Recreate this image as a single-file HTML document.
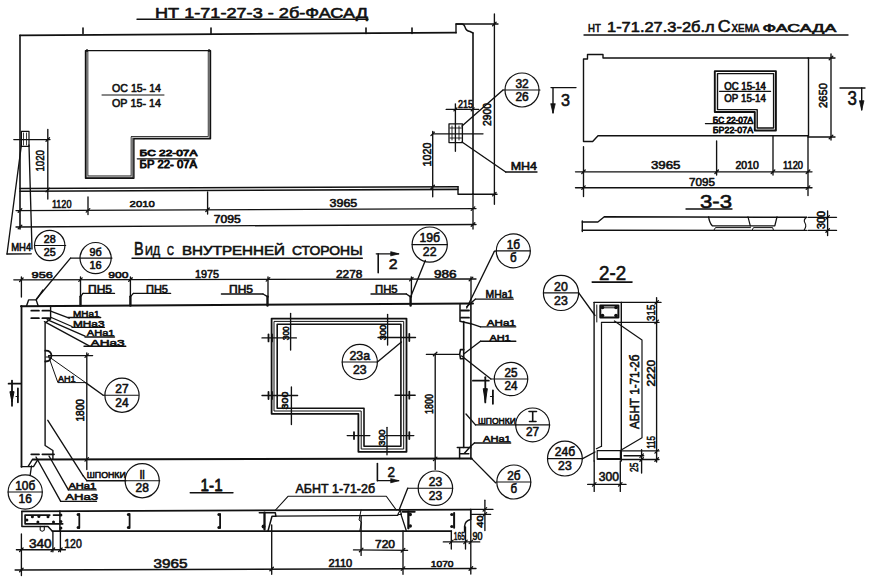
<!DOCTYPE html>
<html><head><meta charset="utf-8"><style>
html,body{margin:0;padding:0;background:#fff;}
svg{display:block;}
text{font-family:"Liberation Sans",sans-serif;fill:#111;stroke:#111;stroke-width:0.6px;}
</style></head><body>
<svg width="874" height="581" viewBox="0 0 874 581" fill="none" stroke="#111" stroke-linecap="round" stroke-linejoin="round">
<rect x="0" y="0" width="874" height="581" fill="#fff" stroke="none"/>
<text x="155.0" y="17.8" font-size="14.93" textLength="213.0" lengthAdjust="spacingAndGlyphs" font-weight="normal">НТ 1-71-27-3 - 2б-ФАСАД</text>
<polyline points="137.0,19.2 368.0,19.2" stroke-width="1.4"/>
<polyline points="20.0,35.3 456.0,32.7" stroke-width="1.7"/>
<polyline points="83.0,28.0 83.0,33.5" stroke-width="1.6"/>
<polyline points="211.0,28.0 211.0,33.5" stroke-width="1.6"/>
<polyline points="366.0,28.0 366.0,33.5" stroke-width="1.6"/>
<polyline points="412.0,28.0 412.0,33.5" stroke-width="1.6"/>
<path d="M456,32.7 L456,24 L462,24 Q464,24 465,27 Q466,31 470,31.5 L473,33" stroke-width="1.4" fill="none"/>
<polyline points="473.0,33.0 473.0,194.2" stroke-width="1.6"/>
<polyline points="20.0,35.3 20.0,229.0" stroke-width="1.6"/>
<path d="M87,50.6 L87,176.8 L132,176.8 L132,137.3 L209.1,137.3 L209.1,50.6" stroke-width="2.6" fill="none"/>
<path d="M87,52 L87,176.8 L132,176.8 L132,137.3 L209.1,137.3 L209.1,52" stroke="#bbb" stroke-width="1.2" fill="none"/>
<path d="M85.5,50.6 L210.5,50.6 L210.5,138.7 L133.9,138.7 L133.9,178.2 L85.5,178.2 Z" stroke-width="1.4" fill="none"/>
<text x="112.0" y="92.0" font-size="11.59" textLength="49.0" lengthAdjust="spacingAndGlyphs" font-weight="normal">ОС 15- 14</text>
<polyline points="102.0,95.0 164.0,95.0" stroke-width="1.0"/>
<text x="112.0" y="106.5" font-size="11.59" textLength="49.0" lengthAdjust="spacingAndGlyphs" font-weight="normal">ОР 15- 14</text>
<text x="139.6" y="155.9" font-size="9.13" textLength="57.8" lengthAdjust="spacingAndGlyphs" font-weight="normal" style="stroke-width:0.9px">БС 22-07А</text>
<polyline points="137.3,158.8 195.1,158.8" stroke-width="1.3"/>
<text x="139.6" y="167.9" font-size="10.72" textLength="57.4" lengthAdjust="spacingAndGlyphs" font-weight="normal" style="stroke-width:0.9px">БР 22- 07А</text>
<polyline points="20.0,188.5 458.0,186.7" stroke-width="1.6"/>
<polyline points="20.0,191.2 458.0,189.4" stroke-width="1.6"/>
<path d="M458,186.7 L458,194.2 L473,194.2" stroke-width="1.4" fill="none"/>
<rect x="21.4" y="131.3" width="7.6" height="15.1" stroke-width="1.2" fill="none"/>
<polyline points="23.5,133.0 23.5,145.0" stroke-width="0.8"/>
<polyline points="26.5,133.0 26.5,145.0" stroke-width="0.8"/>
<polyline points="13.8,139.6 50.0,139.6" stroke-width="1.35"/>
<polyline points="47.8,129.5 47.8,199.0" stroke-width="1.35"/>
<polyline points="46.0,141.3 49.5,137.8" stroke-width="1.3"/>
<polyline points="46.0,191.8 49.5,188.2" stroke-width="1.3"/>
<text transform="translate(44.3,171.6) rotate(-90)" x="0" y="0" font-size="11.59" textLength="21.6" lengthAdjust="spacingAndGlyphs" font-weight="normal">1020</text>
<polyline points="16.0,210.6 476.0,208.6" stroke-width="1.35"/>
<polyline points="18.2,212.3 21.8,208.8" stroke-width="1.3"/>
<polyline points="86.2,212.1 89.8,208.6" stroke-width="1.3"/>
<polyline points="205.8,211.5 209.3,208.0" stroke-width="1.3"/>
<polyline points="471.2,210.4 474.8,206.9" stroke-width="1.3"/>
<polyline points="88.0,197.0 88.0,214.6" stroke-width="1.35"/>
<polyline points="207.6,192.0 207.6,214.0" stroke-width="1.35"/>
<text x="51.9" y="207.9" font-size="11.30" textLength="19.6" lengthAdjust="spacingAndGlyphs" font-weight="normal">1120</text>
<text x="129.6" y="206.8" font-size="9.86" textLength="25.2" lengthAdjust="spacingAndGlyphs" font-weight="normal">2010</text>
<text x="329.6" y="206.8" font-size="10.87" textLength="27.7" lengthAdjust="spacingAndGlyphs" font-weight="normal">3965</text>
<polyline points="16.0,227.0 476.0,224.5" stroke-width="1.35"/>
<polyline points="18.2,228.8 21.8,225.2" stroke-width="1.3"/>
<polyline points="471.2,226.2 474.8,222.8" stroke-width="1.3"/>
<polyline points="473.0,194.0 473.0,229.0" stroke-width="1.35"/>
<text x="213.8" y="223.0" font-size="10.14" textLength="27.0" lengthAdjust="spacingAndGlyphs" font-weight="normal">7095</text>
<rect x="449.0" y="123.8" width="13.4" height="18.8" stroke-width="1.3" fill="none"/>
<polyline points="452.0,126.0 452.0,140.0" stroke-width="0.9"/>
<polyline points="455.5,126.0 455.5,140.0" stroke-width="0.9"/>
<polyline points="459.0,126.0 459.0,140.0" stroke-width="0.9"/>
<polyline points="450.0,128.0 461.5,128.0" stroke-width="0.9"/>
<polyline points="450.0,138.0 461.5,138.0" stroke-width="0.9"/>
<polyline points="432.7,133.8 483.0,133.8" stroke-width="1.35"/>
<polyline points="455.4,103.8 455.4,151.2" stroke-width="1.35"/>
<text x="458.0" y="108.0" font-size="10.14" textLength="15.0" lengthAdjust="spacingAndGlyphs" font-weight="normal">215</text>
<polyline points="446.2,109.4 478.7,109.4" stroke-width="1.35"/>
<polyline points="453.9,110.9 456.9,107.9" stroke-width="1.3"/>
<polyline points="471.2,110.9 474.2,107.9" stroke-width="1.3"/>
<polyline points="494.4,14.0 494.4,204.3" stroke-width="1.35"/>
<polyline points="456.0,24.0 498.0,24.0" stroke-width="1.35"/>
<polyline points="492.6,25.8 496.1,22.2" stroke-width="1.3"/>
<polyline points="492.6,195.9 496.1,192.4" stroke-width="1.3"/>
<polyline points="473.0,194.2 497.0,194.2" stroke-width="1.35"/>
<text transform="translate(491.0,126.0) rotate(-90)" x="0" y="0" font-size="10.87" textLength="23.0" lengthAdjust="spacingAndGlyphs" font-weight="normal">2900</text>
<polyline points="432.7,131.3 432.7,196.8" stroke-width="1.35"/>
<polyline points="430.9,135.6 434.4,132.1" stroke-width="1.3"/>
<polyline points="430.9,188.8 434.4,185.2" stroke-width="1.3"/>
<text transform="translate(431.0,166.6) rotate(-90)" x="0" y="0" font-size="11.59" textLength="24.0" lengthAdjust="spacingAndGlyphs" font-weight="normal">1020</text>
<circle cx="522.0" cy="90.0" r="17.0" stroke-width="1.2"/>
<polyline points="503.0,90.0 540.0,90.0" stroke-width="1.1"/>
<text x="515.4" y="87.8" font-size="12.32" textLength="13.3" lengthAdjust="spacingAndGlyphs" font-weight="normal">32</text>
<text x="515.4" y="101.3" font-size="12.32" textLength="13.3" lengthAdjust="spacingAndGlyphs" font-weight="normal">26</text>
<polyline points="503.0,90.0 462.0,126.0" stroke-width="1.35"/>
<text x="510.7" y="170.3" font-size="10.87" textLength="26.3" lengthAdjust="spacingAndGlyphs" font-weight="normal">МН4</text>
<polyline points="505.7,172.0 537.0,172.0" stroke-width="1.35"/>
<polyline points="462.0,142.0 505.7,172.0" stroke-width="1.35"/>
<polyline points="551.0,87.6 576.0,87.6" stroke-width="1.4"/>
<polyline points="553.0,87.6 553.0,113.0" stroke-width="1.4"/>
<path d="M550.8,104 L553,113 L555.2,104 Z" stroke-width="0.8" fill="#111"/>
<text x="561.0" y="106.0" font-size="17.39" textLength="9.0" lengthAdjust="spacingAndGlyphs" font-weight="normal">3</text>
<polyline points="21.4,145.0 7.0,254.0" stroke-width="1.35"/>
<polyline points="29.0,145.0 32.0,249.0" stroke-width="1.35"/>
<text x="11.2" y="251.4" font-size="10.43" textLength="20.0" lengthAdjust="spacingAndGlyphs" font-weight="normal">МН4</text>
<polyline points="7.0,254.0 31.2,253.8" stroke-width="1.35"/>
<circle cx="49.7" cy="245.5" r="15.2" stroke-width="1.2"/>
<polyline points="34.4,245.5 65.7,245.5" stroke-width="1.1"/>
<text x="43.8" y="243.3" font-size="11.01" textLength="11.9" lengthAdjust="spacingAndGlyphs" font-weight="normal">28</text>
<text x="43.8" y="255.9" font-size="11.01" textLength="11.9" lengthAdjust="spacingAndGlyphs" font-weight="normal">25</text>
<text x="588.0" y="31.9" font-size="10.29" textLength="12.8" lengthAdjust="spacingAndGlyphs" font-weight="normal">НТ</text>
<text x="607.0" y="31.9" font-size="14.35" textLength="107.6" lengthAdjust="spacingAndGlyphs" font-weight="normal">1-71.27.3-2б.л</text>
<text x="717.8" y="31.9" font-size="15.80" textLength="12.8" lengthAdjust="spacingAndGlyphs" font-weight="normal">С</text>
<text x="731.5" y="31.9" font-size="10.72" textLength="27.9" lengthAdjust="spacingAndGlyphs" font-weight="normal">ХЕМА</text>
<text x="762.6" y="31.9" font-size="10.72" textLength="73.7" lengthAdjust="spacingAndGlyphs" font-weight="normal">ФАСАДА</text>
<polyline points="584.0,35.0 848.0,35.0" stroke-width="1.4"/>
<path d="M583.5,141.5 L583.5,59 L587.5,59 L587.5,54.5 L603,54.5 L603,58 L808.5,58 L808.5,135.7 L598,135.7 L592.7,141.5 Z" stroke-width="1.4" fill="none"/>
<path d="M714.8,71.1 L775.9,71.1 L775.9,130.5 L754.8,130.5 L754.8,112 L714.8,112 Z" stroke-width="1.9" fill="none"/>
<path d="M717.5,73.6 L773.6,73.6 L773.6,128 L757.2,128 L757.2,109.6 L717.5,109.6 Z" stroke-width="1.4" fill="none"/>
<text x="724.2" y="89.6" font-size="10.72" textLength="41.7" lengthAdjust="spacingAndGlyphs" font-weight="normal" style="stroke-width:0.7px">ОС 15-14</text>
<polyline points="719.5,91.3 770.6,91.3" stroke-width="1.2"/>
<text x="724.2" y="101.7" font-size="11.74" textLength="41.7" lengthAdjust="spacingAndGlyphs" font-weight="normal" style="stroke-width:0.7px">ОР 15-14</text>
<text x="712.8" y="122.5" font-size="8.84" textLength="40.3" lengthAdjust="spacingAndGlyphs" font-weight="normal" style="stroke-width:0.8px">БС 22-07А</text>
<polyline points="705.4,123.6 753.0,123.6" stroke-width="1.2"/>
<text x="712.8" y="132.6" font-size="9.86" textLength="40.3" lengthAdjust="spacingAndGlyphs" font-weight="normal" style="stroke-width:0.8px">БР22-07А</text>
<polyline points="831.0,54.0 831.0,140.0" stroke-width="1.35"/>
<polyline points="808.0,58.0 835.0,58.0" stroke-width="1.35"/>
<polyline points="808.0,137.0 835.0,137.0" stroke-width="1.35"/>
<polyline points="829.2,59.8 832.8,56.2" stroke-width="1.3"/>
<polyline points="829.2,138.8 832.8,135.2" stroke-width="1.3"/>
<text transform="translate(826.5,108.0) rotate(-90)" x="0" y="0" font-size="11.59" textLength="25.0" lengthAdjust="spacingAndGlyphs" font-weight="normal">2650</text>
<polyline points="840.0,88.0 865.0,88.0" stroke-width="1.4"/>
<polyline points="861.7,88.0 861.7,110.0" stroke-width="1.4"/>
<path d="M859.5,101 L861.7,110 L863.9,101 Z" stroke-width="0.8" fill="#111"/>
<text x="847.6" y="105.0" font-size="20.29" textLength="9.4" lengthAdjust="spacingAndGlyphs" font-weight="normal">3</text>
<polyline points="583.5,146.7 583.5,196.6" stroke-width="1.35"/>
<polyline points="716.6,141.0 716.6,175.0" stroke-width="1.35"/>
<polyline points="773.0,136.0 773.0,175.0" stroke-width="1.35"/>
<polyline points="808.0,136.0 808.0,195.5" stroke-width="1.35"/>
<polyline points="575.5,171.8 812.0,171.8" stroke-width="1.35"/>
<polyline points="575.5,187.7 812.0,187.7" stroke-width="1.35"/>
<polyline points="581.8,173.5 585.2,170.0" stroke-width="1.3"/>
<polyline points="714.9,173.5 718.4,170.0" stroke-width="1.3"/>
<polyline points="771.2,173.5 774.8,170.0" stroke-width="1.3"/>
<polyline points="806.2,173.5 809.8,170.0" stroke-width="1.3"/>
<polyline points="581.8,189.4 585.2,185.9" stroke-width="1.3"/>
<polyline points="806.2,189.4 809.8,185.9" stroke-width="1.3"/>
<text x="651.0" y="169.2" font-size="11.16" textLength="29.5" lengthAdjust="spacingAndGlyphs" font-weight="normal">3965</text>
<text x="735.5" y="169.0" font-size="10.14" textLength="23.3" lengthAdjust="spacingAndGlyphs" font-weight="normal">2010</text>
<text x="783.0" y="169.0" font-size="10.14" textLength="20.0" lengthAdjust="spacingAndGlyphs" font-weight="normal">1120</text>
<text x="689.0" y="186.0" font-size="11.59" textLength="26.0" lengthAdjust="spacingAndGlyphs" font-weight="normal">7095</text>
<text x="700.0" y="207.7" font-size="19.28" textLength="32.0" lengthAdjust="spacingAndGlyphs" font-weight="normal">3-3</text>
<polyline points="686.0,209.0 732.0,209.0" stroke-width="1.4"/>
<path d="M582.3,222 L597.9,222 L604.3,216.8 L806.5,217.3" stroke-width="1.4" fill="none"/>
<polyline points="582.3,230.2 806.5,230.4" stroke-width="1.4"/>
<polyline points="582.3,221.0 582.3,231.5" stroke-width="1.4"/>
<path d="M708.6,216.9 Q709.5,223 712.3,225.8 L774.8,225.8 L777,216.9" stroke-width="1.3" fill="none"/>
<path d="M748,216.9 L750.3,225.8" stroke-width="1.2" fill="none"/>
<path d="M713.8,230.3 L715.5,227.6 L750.5,227.6 M752,230.3 L753.5,227.6 L772.6,227.6 L773.5,230.3" stroke-width="1.0" fill="none"/>
<path d="M806.5,217.3 Q803,220 805,223 Q807,226 804,230.4" stroke-width="1.1" fill="none"/>
<polyline points="827.6,211.0 827.6,235.5" stroke-width="1.35"/>
<polyline points="808.0,217.3 836.5,217.3" stroke-width="1.35"/>
<polyline points="808.0,230.4 836.5,230.4" stroke-width="1.35"/>
<polyline points="825.9,219.1 829.4,215.6" stroke-width="1.3"/>
<polyline points="825.9,232.2 829.4,228.7" stroke-width="1.3"/>
<text transform="translate(824.5,229.0) rotate(-90)" x="0" y="0" font-size="10.14" textLength="18.0" lengthAdjust="spacingAndGlyphs" font-weight="normal">300</text>
<text x="134.1" y="254.7" font-size="18.41" textLength="9.6" lengthAdjust="spacingAndGlyphs" font-weight="normal">В</text>
<text x="145.0" y="254.7" font-size="13.19" textLength="15.2" lengthAdjust="spacingAndGlyphs" font-weight="normal">ИД</text>
<text x="167.0" y="254.7" font-size="13.19" textLength="7.0" lengthAdjust="spacingAndGlyphs" font-weight="normal">С</text>
<text x="182.0" y="254.7" font-size="13.19" textLength="103.0" lengthAdjust="spacingAndGlyphs" font-weight="normal">ВНУТРЕННЕЙ</text>
<text x="292.0" y="254.7" font-size="13.19" textLength="70.5" lengthAdjust="spacingAndGlyphs" font-weight="normal">СТОРОНЫ</text>
<polyline points="132.0,258.2 362.3,258.2" stroke-width="1.4"/>
<polyline points="376.2,253.8 398.8,253.8" stroke-width="1.2"/>
<path d="M391,251.8 L398.8,253.8 L391,255.8 Z" stroke-width="0.8" fill="#111"/>
<polyline points="378.2,253.8 378.2,272.7" stroke-width="1.6"/>
<text x="388.8" y="269.0" font-size="14.64" textLength="8.8" lengthAdjust="spacingAndGlyphs" font-weight="normal">2</text>
<polyline points="13.8,279.8 476.0,279.0" stroke-width="1.35"/>
<polyline points="19.6,281.5 23.1,278.0" stroke-width="1.3"/>
<polyline points="78.8,281.4 82.2,277.9" stroke-width="1.3"/>
<polyline points="128.7,281.3 132.2,277.8" stroke-width="1.3"/>
<polyline points="266.2,281.1 269.8,277.6" stroke-width="1.3"/>
<polyline points="409.6,280.9 413.1,277.4" stroke-width="1.3"/>
<polyline points="469.2,280.8 472.8,277.3" stroke-width="1.3"/>
<polyline points="21.4,277.0 21.4,297.0" stroke-width="1.35"/>
<polyline points="80.5,277.0 80.5,297.0" stroke-width="1.35"/>
<polyline points="130.4,277.0 130.4,297.0" stroke-width="1.35"/>
<polyline points="268.0,277.0 268.0,297.0" stroke-width="1.35"/>
<polyline points="411.4,277.0 411.4,297.0" stroke-width="1.35"/>
<polyline points="471.0,277.0 471.0,303.0" stroke-width="1.35"/>
<text x="31.5" y="278.3" font-size="9.86" textLength="21.4" lengthAdjust="spacingAndGlyphs" font-weight="normal">956</text>
<text x="108.2" y="278.3" font-size="9.86" textLength="20.2" lengthAdjust="spacingAndGlyphs" font-weight="normal">900</text>
<text x="195.0" y="278.0" font-size="10.87" textLength="24.0" lengthAdjust="spacingAndGlyphs" font-weight="normal">1975</text>
<text x="336.0" y="277.8" font-size="11.01" textLength="26.3" lengthAdjust="spacingAndGlyphs" font-weight="normal">2278</text>
<text x="434.0" y="277.8" font-size="11.01" textLength="22.6" lengthAdjust="spacingAndGlyphs" font-weight="normal">986</text>
<polyline points="21.0,306.2 473.0,303.6" stroke-width="2.0"/>
<polyline points="80.5,296.6 80.5,305.5" stroke-width="2.4"/>
<polyline points="130.4,296.6 130.4,305.5" stroke-width="2.4"/>
<polyline points="267.5,296.6 267.5,305.5" stroke-width="2.4"/>
<polyline points="410.6,296.6 410.6,305.5" stroke-width="2.4"/>
<text x="88.0" y="292.9" font-size="11.01" textLength="24.0" lengthAdjust="spacingAndGlyphs" font-weight="normal">ПН5</text>
<polyline points="83.0,293.4 114.5,293.4" stroke-width="1.35"/>
<polyline points="83.0,293.4 80.5,296.6" stroke-width="1.35"/>
<text x="146.0" y="292.9" font-size="11.01" textLength="22.0" lengthAdjust="spacingAndGlyphs" font-weight="normal">ПН5</text>
<polyline points="133.4,293.4 170.6,293.4" stroke-width="1.35"/>
<polyline points="133.4,293.4 130.4,296.6" stroke-width="1.35"/>
<text x="229.0" y="292.9" font-size="11.01" textLength="24.0" lengthAdjust="spacingAndGlyphs" font-weight="normal">ПН5</text>
<polyline points="221.4,294.0 263.0,294.0" stroke-width="1.35"/>
<polyline points="263.0,294.0 267.5,296.6" stroke-width="1.35"/>
<text x="375.0" y="292.9" font-size="11.01" textLength="22.6" lengthAdjust="spacingAndGlyphs" font-weight="normal">ПН5</text>
<polyline points="371.0,294.0 406.4,294.0" stroke-width="1.35"/>
<polyline points="406.4,294.0 410.2,296.6" stroke-width="1.35"/>
<polyline points="21.5,306.0 21.5,466.9" stroke-width="1.8"/>
<path d="M50.6,306 L50.6,318.9 L45.1,323 L45.1,445.5 L52.9,450.5 L52.9,459.4" stroke-width="1.4" fill="none"/>
<path d="M26.5,306 L28.6,299.9 L36.2,299.9 L38.2,306" stroke-width="1.4" fill="none"/>
<polyline points="36.2,299.9 43.0,290.0" stroke-width="1.35"/>
<circle cx="95.6" cy="258.1" r="15.6" stroke-width="1.2"/>
<polyline points="70.5,258.1 112.0,258.1" stroke-width="1.1"/>
<text x="89.5" y="255.9" font-size="11.30" textLength="12.2" lengthAdjust="spacingAndGlyphs" font-weight="normal">9б</text>
<text x="89.5" y="268.7" font-size="11.30" textLength="12.2" lengthAdjust="spacingAndGlyphs" font-weight="normal">16</text>
<polyline points="70.5,258.1 36.5,299.0" stroke-width="1.35"/>
<polyline points="31.3,310.7 38.9,310.7" stroke-width="1.8"/>
<polyline points="42.4,310.7 49.3,310.7" stroke-width="1.8"/>
<polyline points="31.3,318.2 38.9,318.2" stroke-width="1.8"/>
<polyline points="42.4,318.2 49.3,318.2" stroke-width="1.8"/>
<polyline points="51.3,311.3 69.2,318.2" stroke-width="1.35"/>
<polyline points="51.3,317.5 72.0,326.5" stroke-width="1.35"/>
<polyline points="47.2,319.6 85.0,336.1" stroke-width="1.35"/>
<polyline points="44.4,321.7 89.2,345.8" stroke-width="1.35"/>
<text x="73.0" y="316.8" font-size="9.13" textLength="26.4" lengthAdjust="spacingAndGlyphs" font-weight="normal">МНа1</text>
<polyline points="68.0,317.5 100.7,317.5" stroke-width="1.35"/>
<text x="73.0" y="326.8" font-size="9.86" textLength="31.5" lengthAdjust="spacingAndGlyphs" font-weight="normal">МНа3</text>
<polyline points="72.0,327.3 104.5,327.3" stroke-width="1.35"/>
<text x="86.8" y="336.4" font-size="9.28" textLength="27.7" lengthAdjust="spacingAndGlyphs" font-weight="normal">АНа1</text>
<polyline points="85.0,337.0 114.5,337.0" stroke-width="1.35"/>
<text x="90.6" y="345.7" font-size="9.13" textLength="34.0" lengthAdjust="spacingAndGlyphs" font-weight="normal">АНа3</text>
<polyline points="84.0,346.2 125.8,346.2" stroke-width="1.35"/>
<path d="M45.3,350.7 Q51,350.5 51.5,355.5 Q51,361.5 45.3,361.5" stroke-width="1.8" fill="none"/>
<polyline points="46.0,357.0 50.0,357.0" stroke-width="1.2"/>
<polyline points="48.6,355.6 92.6,355.6" stroke-width="1.35"/>
<polyline points="86.8,353.0 86.8,469.5" stroke-width="1.35"/>
<polyline points="85.0,357.4 88.5,353.9" stroke-width="1.3"/>
<polyline points="85.0,461.1 88.5,457.6" stroke-width="1.3"/>
<path d="M48.6,356.5 L57.9,382.6 L85.6,382.6 L48.6,356.5" stroke-width="1.0" fill="none"/>
<text x="57.9" y="381.5" font-size="9.86" textLength="17.6" lengthAdjust="spacingAndGlyphs" font-weight="normal">АН1</text>
<polyline points="85.6,382.6 103.2,395.2" stroke-width="1.35"/>
<circle cx="122.0" cy="395.2" r="17.1" stroke-width="1.2"/>
<polyline points="103.2,395.2 138.4,395.2" stroke-width="1.1"/>
<text x="115.3" y="393.0" font-size="12.39" textLength="13.3" lengthAdjust="spacingAndGlyphs" font-weight="normal">27</text>
<text x="115.3" y="406.6" font-size="12.39" textLength="13.3" lengthAdjust="spacingAndGlyphs" font-weight="normal">24</text>
<text transform="translate(83.5,421.6) rotate(-90)" x="0" y="0" font-size="10.43" textLength="22.6" lengthAdjust="spacingAndGlyphs" font-weight="normal">1800</text>
<polyline points="12.0,380.6 12.0,405.8" stroke-width="1.8"/>
<polyline points="8.6,383.7 21.0,383.7" stroke-width="1.8"/>
<path d="M10,392 L12,402 L14,392 Z" stroke-width="1.0" fill="#111"/>
<polyline points="17.9,388.5 17.9,402.3" stroke-width="1.8"/>
<polyline points="16.0,396.5 17.9,396.5" stroke-width="1.2"/>
<polyline points="32.7,459.4 471.7,458.6" stroke-width="2.0"/>
<path d="M21.3,466.6 L28,466.6 L32,460.2 M28,466.6 L33.5,466.6 L37.5,460.2" stroke-width="1.4" fill="none"/>
<polyline points="31.3,454.3 39.0,454.3" stroke-width="1.8"/>
<polyline points="42.4,454.3 54.0,454.3" stroke-width="1.8"/>
<polyline points="49.0,456.0 68.4,489.8" stroke-width="1.35"/>
<polyline points="36.0,457.0 60.7,501.3" stroke-width="1.35"/>
<polyline points="47.8,420.3 83.0,475.7" stroke-width="1.35"/>
<polyline points="83.0,475.7 86.8,480.7" stroke-width="1.35"/>
<text x="68.4" y="489.2" font-size="8.70" textLength="27.8" lengthAdjust="spacingAndGlyphs" font-weight="normal">АНа1</text>
<polyline points="68.4,489.9 96.2,489.9" stroke-width="1.35"/>
<text x="65.2" y="499.8" font-size="9.71" textLength="32.9" lengthAdjust="spacingAndGlyphs" font-weight="normal">АНа3</text>
<polyline points="60.7,501.4 96.5,501.4" stroke-width="1.35"/>
<text x="86.8" y="478.2" font-size="8.99" textLength="39.0" lengthAdjust="spacingAndGlyphs" font-weight="normal">ШПОНКИ</text>
<polyline points="86.8,480.7 125.8,480.7" stroke-width="1.35"/>
<circle cx="142.2" cy="480.7" r="17.1" stroke-width="1.2"/>
<polyline points="125.8,480.7 159.8,480.7" stroke-width="1.1"/>
<text x="139.7" y="478.5" font-size="12.39" textLength="5.0" lengthAdjust="spacingAndGlyphs" font-weight="normal">ll</text>
<text x="135.5" y="492.1" font-size="12.39" textLength="13.3" lengthAdjust="spacingAndGlyphs" font-weight="normal">28</text>
<circle cx="25.2" cy="492.0" r="17.1" stroke-width="1.2"/>
<polyline points="8.1,492.0 42.3,492.0" stroke-width="1.1"/>
<text x="15.2" y="489.8" font-size="12.39" textLength="20.0" lengthAdjust="spacingAndGlyphs" font-weight="normal">10б</text>
<text x="18.5" y="503.4" font-size="12.39" textLength="13.3" lengthAdjust="spacingAndGlyphs" font-weight="normal">16</text>
<polyline points="30.2,475.0 31.5,466.0" stroke-width="1.35"/>
<path d="M271.6,318.6 L406.5,318.6 L406.5,451.8 L358.4,451.8 L358.4,413.8 L271.6,413.8 Z" stroke-width="1.8" fill="none"/>
<path d="M274.40000000000003,321.40000000000003 L403.7,321.40000000000003 L403.7,449.0 L361.2,449.0 L361.2,411.0 L274.40000000000003,411.0 Z" stroke-width="1.0" fill="none"/>
<path d="M277.20000000000005,324.20000000000005 L400.9,324.20000000000005 L400.9,446.2 L364.0,446.2 L364.0,408.2 L277.20000000000005,408.2 Z" stroke-width="1.6" fill="none"/>
<text transform="translate(288.9,340.3) rotate(-90)" x="0" y="0" font-size="9.57" textLength="14.1" lengthAdjust="spacingAndGlyphs" font-weight="normal">300</text>
<text transform="translate(386.2,340.3) rotate(-90)" x="0" y="0" font-size="8.55" textLength="15.5" lengthAdjust="spacingAndGlyphs" font-weight="normal">300</text>
<text transform="translate(288.3,409.4) rotate(-90)" x="0" y="0" font-size="8.99" textLength="17.8" lengthAdjust="spacingAndGlyphs" font-weight="normal">300</text>
<text transform="translate(385.4,445.9) rotate(-90)" x="0" y="0" font-size="9.71" textLength="16.5" lengthAdjust="spacingAndGlyphs" font-weight="normal">300</text>
<polyline points="262.0,337.9 296.4,337.9" stroke-width="1.35"/>
<polyline points="290.6,313.4 290.6,350.0" stroke-width="1.35"/>
<polyline points="378.0,337.5 415.5,337.5" stroke-width="1.35"/>
<polyline points="387.6,314.5 387.6,345.1" stroke-width="1.35"/>
<polyline points="262.0,395.5 297.6,395.5" stroke-width="1.35"/>
<polyline points="291.4,387.0 291.4,424.5" stroke-width="1.35"/>
<polyline points="395.0,395.2 415.2,395.2" stroke-width="1.35"/>
<polyline points="347.2,435.6 369.9,435.6" stroke-width="1.35"/>
<polyline points="385.4,435.6 413.8,435.6" stroke-width="1.35"/>
<polyline points="387.0,427.3 387.0,454.7" stroke-width="1.35"/>
<polyline points="268.5,334.4 268.5,341.4" stroke-width="1.8"/>
<polyline points="272.0,334.4 272.0,341.4" stroke-width="1.8"/>
<polyline points="409.3,334.0 409.3,341.0" stroke-width="1.8"/>
<polyline points="268.5,392.0 268.5,399.0" stroke-width="1.8"/>
<polyline points="272.0,392.0 272.0,399.0" stroke-width="1.8"/>
<polyline points="409.3,391.7 409.3,398.7" stroke-width="1.8"/>
<polyline points="354.0,432.1 354.0,439.1" stroke-width="1.8"/>
<polyline points="409.3,432.1 409.3,439.1" stroke-width="1.8"/>
<circle cx="359.8" cy="362.0" r="17.6" stroke-width="1.2"/>
<polyline points="342.2,362.0 377.4,362.0" stroke-width="1.1"/>
<text x="349.5" y="359.8" font-size="12.75" textLength="20.6" lengthAdjust="spacingAndGlyphs" font-weight="normal">23а</text>
<text x="352.9" y="373.6" font-size="12.75" textLength="13.7" lengthAdjust="spacingAndGlyphs" font-weight="normal">23</text>
<polyline points="377.4,362.0 401.4,342.0" stroke-width="1.35"/>
<polyline points="463.7,321.5 463.7,447.5" stroke-width="1.6"/>
<polyline points="470.9,303.6 470.9,459.0" stroke-width="1.6"/>
<path d="M460,304.5 L460,321.3 L470.9,323.7" stroke-width="1.5" fill="none"/>
<polyline points="461.0,310.5 469.0,310.5" stroke-width="1.8"/>
<polyline points="461.0,317.7 469.0,317.7" stroke-width="1.8"/>
<path d="M457.3,447.5 L470.9,447.5 M459.6,447.5 L459.6,458.5 M459.6,453.7 L468.8,453.7 M470.9,446 L464,453.7" stroke-width="1.5" fill="none"/>
<text x="485.6" y="297.9" font-size="11.01" textLength="27.7" lengthAdjust="spacingAndGlyphs" font-weight="normal">МНа1</text>
<polyline points="475.5,299.1 513.3,299.1" stroke-width="1.35"/>
<polyline points="475.5,299.1 466.7,306.7" stroke-width="1.35"/>
<text x="486.8" y="325.6" font-size="9.13" textLength="29.0" lengthAdjust="spacingAndGlyphs" font-weight="normal">АНа1</text>
<polyline points="480.5,326.8 515.8,326.8" stroke-width="1.35"/>
<polyline points="480.5,326.8 470.9,323.7" stroke-width="1.35"/>
<text x="489.4" y="340.7" font-size="9.13" textLength="21.3" lengthAdjust="spacingAndGlyphs" font-weight="normal">АН1</text>
<polyline points="480.5,341.2 515.8,341.2" stroke-width="1.35"/>
<polyline points="480.5,341.2 463.7,354.0" stroke-width="1.35"/>
<path d="M463.7,349.6 L460.5,349.6 Q459,354 460.5,358.7 L463.7,358.7" stroke-width="1.6" fill="none"/>
<polyline points="426.4,354.4 459.4,354.4" stroke-width="1.35"/>
<polyline points="461.7,356.0 490.9,379.0" stroke-width="1.35"/>
<circle cx="511.0" cy="379.0" r="16.7" stroke-width="1.2"/>
<polyline points="490.9,379.0 527.7,379.0" stroke-width="1.1"/>
<text x="504.5" y="376.8" font-size="12.10" textLength="13.0" lengthAdjust="spacingAndGlyphs" font-weight="normal">25</text>
<text x="504.5" y="390.2" font-size="12.10" textLength="13.0" lengthAdjust="spacingAndGlyphs" font-weight="normal">24</text>
<circle cx="429.7" cy="244.6" r="17.6" stroke-width="1.2"/>
<polyline points="412.1,244.6 447.3,244.6" stroke-width="1.1"/>
<text x="419.4" y="242.4" font-size="12.75" textLength="20.6" lengthAdjust="spacingAndGlyphs" font-weight="normal">19б</text>
<text x="422.8" y="256.2" font-size="12.75" textLength="13.7" lengthAdjust="spacingAndGlyphs" font-weight="normal">22</text>
<polyline points="425.3,260.5 411.2,295.5" stroke-width="1.35"/>
<circle cx="513.3" cy="250.9" r="17.0" stroke-width="1.2"/>
<polyline points="496.3,250.9 530.3,250.9" stroke-width="1.1"/>
<text x="506.7" y="248.7" font-size="12.32" textLength="13.3" lengthAdjust="spacingAndGlyphs" font-weight="normal">1б</text>
<text x="510.0" y="262.2" font-size="12.32" textLength="6.6" lengthAdjust="spacingAndGlyphs" font-weight="normal">б</text>
<polyline points="496.3,250.9 494.4,251.3" stroke-width="1.35"/>
<polyline points="494.4,251.3 466.7,308.0" stroke-width="1.35"/>
<polyline points="435.2,354.0 435.2,469.4" stroke-width="1.35"/>
<polyline points="433.4,355.8 436.9,352.2" stroke-width="1.3"/>
<polyline points="433.4,460.6 436.9,457.1" stroke-width="1.3"/>
<text transform="translate(432.5,414.0) rotate(-90)" x="0" y="0" font-size="10.87" textLength="20.0" lengthAdjust="spacingAndGlyphs" font-weight="normal">1800</text>
<polyline points="472.9,380.7 488.8,380.7" stroke-width="1.8"/>
<polyline points="485.3,377.2 485.3,402.4" stroke-width="1.8"/>
<path d="M483.3,389 L485.3,402 L487.3,389 Z" stroke-width="1.0" fill="#111"/>
<polyline points="492.9,390.3 492.9,403.8" stroke-width="1.8"/>
<polyline points="490.5,396.5 492.9,396.5" stroke-width="1.2"/>
<text x="478.0" y="424.1" font-size="9.13" textLength="37.8" lengthAdjust="spacingAndGlyphs" font-weight="normal">ШПОНКИ</text>
<polyline points="475.5,424.9 515.8,424.9" stroke-width="1.35"/>
<polyline points="466.0,414.0 475.5,424.9" stroke-width="1.35"/>
<circle cx="532.6" cy="424.9" r="16.9" stroke-width="1.2"/>
<polyline points="515.8,424.9 549.8,424.9" stroke-width="1.1"/>
<text x="532.6" y="422.7" font-size="12.25" textLength="0.0" lengthAdjust="spacingAndGlyphs" font-weight="normal"></text>
<text x="526.0" y="436.1" font-size="12.25" textLength="13.2" lengthAdjust="spacingAndGlyphs" font-weight="normal">27</text>
<path d="M529,411.5 L536.5,411.5 M532.7,411.5 L532.7,421.5 M529.5,421.5 L536,421.5" stroke-width="1.6" fill="none"/>
<text x="483.0" y="441.7" font-size="9.13" textLength="27.7" lengthAdjust="spacingAndGlyphs" font-weight="normal">АНа1</text>
<polyline points="474.4,443.0 510.7,443.0" stroke-width="1.35"/>
<polyline points="474.4,443.0 470.9,446.0" stroke-width="1.35"/>
<polyline points="471.7,458.6 495.6,482.8" stroke-width="1.35"/>
<circle cx="513.8" cy="482.0" r="17.0" stroke-width="1.2"/>
<polyline points="496.8,482.0 530.8,482.0" stroke-width="1.1"/>
<text x="507.2" y="479.8" font-size="12.32" textLength="13.3" lengthAdjust="spacingAndGlyphs" font-weight="normal">2б</text>
<text x="510.5" y="493.3" font-size="12.32" textLength="6.6" lengthAdjust="spacingAndGlyphs" font-weight="normal">б</text>
<polyline points="377.4,463.6 377.4,480.7" stroke-width="1.6"/>
<polyline points="377.4,480.7 398.8,480.7" stroke-width="1.2"/>
<path d="M391,478.7 L398.8,480.7 L391,482.7 Z" stroke-width="0.8" fill="#111"/>
<text x="387.5" y="477.0" font-size="14.49" textLength="7.5" lengthAdjust="spacingAndGlyphs" font-weight="normal">2</text>
<text x="599.1" y="279.7" font-size="19.86" textLength="27.1" lengthAdjust="spacingAndGlyphs" font-weight="normal">2-2</text>
<polyline points="592.2,282.1 632.0,282.1" stroke-width="1.6"/>
<circle cx="561.0" cy="292.9" r="17.6" stroke-width="1.2"/>
<polyline points="543.5,292.9 578.7,292.9" stroke-width="1.1"/>
<text x="554.1" y="290.7" font-size="12.75" textLength="13.7" lengthAdjust="spacingAndGlyphs" font-weight="normal">20</text>
<text x="554.1" y="304.5" font-size="12.75" textLength="13.7" lengthAdjust="spacingAndGlyphs" font-weight="normal">23</text>
<polyline points="578.7,292.9 595.0,315.5" stroke-width="1.35"/>
<polyline points="594.1,302.4 594.1,461.0" stroke-width="1.4"/>
<polyline points="594.1,302.4 621.3,302.4" stroke-width="1.4"/>
<polyline points="621.3,302.4 621.3,461.0" stroke-width="1.4"/>
<polyline points="601.5,323.6 601.5,446.3" stroke-width="1.2"/>
<polyline points="601.5,446.3 596.4,448.8" stroke-width="1.2"/>
<rect x="600.3" y="305.4" width="18.1" height="12.2" stroke-width="2.0" fill="none"/>
<polyline points="601.0,307.8 617.5,307.8" stroke-width="1.0"/>
<circle cx="602.5" cy="307.5" r="1.8" fill="#111" stroke="none"/>
<circle cx="616.0" cy="307.5" r="1.8" fill="#111" stroke="none"/>
<circle cx="602.5" cy="315.5" r="1.8" fill="#111" stroke="none"/>
<circle cx="616.0" cy="315.5" r="1.8" fill="#111" stroke="none"/>
<polyline points="596.8,305.0 596.8,322.0" stroke-width="1.0"/>
<polyline points="601.5,322.4 621.3,322.4" stroke-width="1.35"/>
<path d="M614.4,321 L642,340 L642,437.7 L620.4,450.6" stroke-width="1.2" fill="none"/>
<rect x="597.2" y="450.6" width="23.2" height="8.6" stroke-width="1.2" fill="none"/>
<polyline points="598.0,459.0 620.0,459.0" stroke-width="2"/>
<polyline points="621.3,302.4 661.0,302.4" stroke-width="1.35"/>
<polyline points="621.3,322.4 659.0,322.4" stroke-width="1.35"/>
<polyline points="656.6,297.7 656.6,462.0" stroke-width="1.35"/>
<polyline points="654.9,304.1 658.4,300.6" stroke-width="1.3"/>
<polyline points="654.9,323.6 658.4,320.1" stroke-width="1.3"/>
<polyline points="654.9,453.1 658.4,449.6" stroke-width="1.3"/>
<polyline points="654.9,461.2 658.4,457.8" stroke-width="1.3"/>
<text transform="translate(654.5,321.0) rotate(-90)" x="0" y="0" font-size="11.59" textLength="16.4" lengthAdjust="spacingAndGlyphs" font-weight="normal">315</text>
<text transform="translate(654.5,386.4) rotate(-90)" x="0" y="0" font-size="11.59" textLength="26.7" lengthAdjust="spacingAndGlyphs" font-weight="normal">2220</text>
<text transform="translate(654.5,448.8) rotate(-90)" x="0" y="0" font-size="11.59" textLength="12.8" lengthAdjust="spacingAndGlyphs" font-weight="normal">115</text>
<text transform="translate(638.5,429.0) rotate(-90)" x="0" y="0" font-size="13.04" textLength="74.5" lengthAdjust="spacingAndGlyphs" font-weight="normal">АБНТ 1-71-2б</text>
<polyline points="621.3,450.9 659.0,450.9" stroke-width="1.35"/>
<polyline points="624.0,455.7 643.7,455.7" stroke-width="1.35"/>
<polyline points="621.3,459.5 659.0,459.5" stroke-width="1.35"/>
<polyline points="641.6,449.7 641.6,473.0" stroke-width="1.35"/>
<polyline points="639.9,457.4 643.4,453.9" stroke-width="1.3"/>
<polyline points="639.9,461.2 643.4,457.8" stroke-width="1.3"/>
<text transform="translate(638.0,472.0) rotate(-90)" x="0" y="0" font-size="10.87" textLength="9.4" lengthAdjust="spacingAndGlyphs" font-weight="normal">25</text>
<text x="598.7" y="481.3" font-size="12.03" textLength="20.2" lengthAdjust="spacingAndGlyphs" font-weight="normal">300</text>
<polyline points="587.7,484.4 626.0,484.4" stroke-width="1.35"/>
<polyline points="594.2,461.0 594.2,491.4" stroke-width="1.35"/>
<polyline points="620.3,461.0 620.3,491.4" stroke-width="1.35"/>
<polyline points="592.5,486.1 596.0,482.6" stroke-width="1.3"/>
<polyline points="618.5,486.1 622.0,482.6" stroke-width="1.3"/>
<circle cx="564.9" cy="458.6" r="17.4" stroke-width="1.2"/>
<polyline points="547.5,458.6 582.2,458.6" stroke-width="1.1"/>
<text x="554.7" y="456.4" font-size="12.61" textLength="20.4" lengthAdjust="spacingAndGlyphs" font-weight="normal">24б</text>
<text x="558.1" y="470.1" font-size="12.61" textLength="13.6" lengthAdjust="spacingAndGlyphs" font-weight="normal">23</text>
<polyline points="582.2,458.8 595.0,452.0" stroke-width="1.35"/>
<text x="200.6" y="491.2" font-size="16.52" textLength="22.0" lengthAdjust="spacingAndGlyphs" font-weight="normal" style="stroke-width:0.8px">1-1</text>
<polyline points="190.3,492.8 232.9,492.8" stroke-width="1.6"/>
<text x="295.6" y="493.3" font-size="12.75" textLength="79.4" lengthAdjust="spacingAndGlyphs" font-weight="normal">АБНТ 1-71-2б</text>
<path d="M275.5,510 L288,496.3 L386.3,496.3 L396.3,510" stroke-width="1.1" fill="none"/>
<polyline points="407.7,488.2 399.0,510.2" stroke-width="1.35"/>
<circle cx="435.4" cy="488.2" r="17.2" stroke-width="1.2"/>
<polyline points="407.7,488.2 452.7,488.2" stroke-width="1.1"/>
<text x="428.7" y="486.0" font-size="12.46" textLength="13.4" lengthAdjust="spacingAndGlyphs" font-weight="normal">23</text>
<text x="428.7" y="499.6" font-size="12.46" textLength="13.4" lengthAdjust="spacingAndGlyphs" font-weight="normal">23</text>
<polyline points="21.9,511.4 470.8,509.6" stroke-width="1.8"/>
<polyline points="52.6,531.2 451.3,531.2" stroke-width="1.8"/>
<path d="M470.7,509.4 L470.7,519.6 Q465,521 464.6,526.2 L464.6,531.2" stroke-width="1.5" fill="none"/>
<polyline points="275.9,516.1 397.8,515.4" stroke-width="1.3"/>
<path d="M21.9,511.4 L21.9,526.4 L48,526.4 L52.6,531.4" stroke-width="1.5" fill="none"/>
<polyline points="59.9,511.0 59.9,531.2" stroke-width="1.5"/>
<path d="M49.8,515.1 L25.1,515.1 L25.1,523.8 L62.7,523.8" stroke-width="1.7" fill="none"/>
<polyline points="53.5,515.1 60.0,515.1" stroke-width="1.7"/>
<circle cx="32.4" cy="516.8" r="1.5" fill="#111" stroke="none"/>
<circle cx="38.9" cy="516.6" r="1.5" fill="#111" stroke="none"/>
<circle cx="48.0" cy="516.8" r="1.5" fill="#111" stroke="none"/>
<circle cx="26.9" cy="520.0" r="1.5" fill="#111" stroke="none"/>
<circle cx="37.9" cy="522.0" r="1.5" fill="#111" stroke="none"/>
<circle cx="53.5" cy="522.0" r="1.5" fill="#111" stroke="none"/>
<circle cx="60.9" cy="515.0" r="1.5" fill="#111" stroke="none"/>
<circle cx="60.9" cy="528.0" r="1.5" fill="#111" stroke="none"/>
<circle cx="60.9" cy="521.5" r="1.5" fill="#111" stroke="none"/>
<path d="M40.2,526.4 L40.2,530 Q42.2,532.5 44.3,530 L44.3,526.4" stroke-width="1.1" fill="none"/>
<polyline points="79.3,514.0 79.3,528.0" stroke-width="1.8"/>
<circle cx="78.1" cy="514.5" r="1.5" fill="#111" stroke="none"/>
<circle cx="78.1" cy="527.5" r="1.5" fill="#111" stroke="none"/>
<polyline points="129.6,514.0 129.6,528.0" stroke-width="1.8"/>
<circle cx="128.4" cy="514.5" r="1.5" fill="#111" stroke="none"/>
<circle cx="128.4" cy="527.5" r="1.5" fill="#111" stroke="none"/>
<polyline points="220.1,514.0 220.1,528.0" stroke-width="1.8"/>
<circle cx="218.9" cy="514.5" r="1.5" fill="#111" stroke="none"/>
<circle cx="218.9" cy="527.5" r="1.5" fill="#111" stroke="none"/>
<path d="M259.3,512.7 L275.3,512.7 L275.9,516.3 L272,516.3 L268,531" stroke-width="1.5" fill="none"/>
<polyline points="264.5,512.7 264.5,529.5" stroke-width="2.3"/>
<circle cx="263.5" cy="526.5" r="1.9" fill="#111" stroke="none"/>
<path d="M402.7,511.7 L414.7,511.7" stroke-width="1.9" fill="none"/>
<polyline points="408.4,511.7 408.4,528.3" stroke-width="2.3"/>
<circle cx="410.3" cy="514.5" r="1.7" fill="#111" stroke="none"/>
<circle cx="410.3" cy="526.0" r="1.7" fill="#111" stroke="none"/>
<path d="M400.8,513.9 L406.3,530.7" stroke-width="1.3" fill="none"/>
<path d="M397.8,514.5 L400.3,510 L401.4,514.5 Z" stroke-width="1.2" fill="none"/>
<polyline points="454.1,513.0 454.1,527.7" stroke-width="2.0"/>
<circle cx="451.8" cy="514.5" r="1.6" fill="#111" stroke="none"/>
<circle cx="451.8" cy="526.5" r="1.6" fill="#111" stroke="none"/>
<path d="M361.1,510 L359,520 L361.5,522 L359.8,531" stroke-width="1.0" fill="none"/>
<polyline points="16.4,549.7 65.4,549.7" stroke-width="1.35"/>
<polyline points="21.4,534.0 21.4,575.6" stroke-width="1.35"/>
<polyline points="52.9,531.5 52.9,551.7" stroke-width="1.35"/>
<polyline points="60.4,530.0 60.4,551.7" stroke-width="1.35"/>
<polyline points="19.6,551.5 23.1,548.0" stroke-width="1.3"/>
<polyline points="51.1,551.5 54.6,548.0" stroke-width="1.3"/>
<polyline points="58.6,551.5 62.1,548.0" stroke-width="1.3"/>
<text x="28.9" y="547.9" font-size="12.90" textLength="22.7" lengthAdjust="spacingAndGlyphs" font-weight="normal">340</text>
<text x="64.2" y="547.9" font-size="12.90" textLength="17.6" lengthAdjust="spacingAndGlyphs" font-weight="normal">120</text>
<polyline points="15.1,570.0 476.0,568.5" stroke-width="1.35"/>
<polyline points="19.6,571.8 23.1,568.2" stroke-width="1.3"/>
<polyline points="269.9,570.8 273.4,567.2" stroke-width="1.3"/>
<polyline points="401.2,570.4 404.8,566.9" stroke-width="1.3"/>
<polyline points="469.1,570.2 472.6,566.8" stroke-width="1.3"/>
<text x="153.5" y="568.0" font-size="12.75" textLength="34.0" lengthAdjust="spacingAndGlyphs" font-weight="normal">3965</text>
<polyline points="271.7,525.0 271.7,574.3" stroke-width="1.35"/>
<text x="328.4" y="566.8" font-size="11.01" textLength="23.9" lengthAdjust="spacingAndGlyphs" font-weight="normal">2110</text>
<polyline points="353.5,549.9 407.6,550.3" stroke-width="1.35"/>
<polyline points="361.1,516.0 361.1,555.4" stroke-width="1.35"/>
<polyline points="403.0,531.0 403.0,574.2" stroke-width="1.35"/>
<polyline points="359.4,551.8 362.9,548.2" stroke-width="1.3"/>
<polyline points="401.2,552.0 404.8,548.5" stroke-width="1.3"/>
<text x="375.0" y="547.9" font-size="11.01" textLength="20.0" lengthAdjust="spacingAndGlyphs" font-weight="normal">720</text>
<text x="430.7" y="566.6" font-size="9.71" textLength="22.9" lengthAdjust="spacingAndGlyphs" font-weight="normal">1070</text>
<polyline points="470.8,509.6 470.8,574.0" stroke-width="1.35"/>
<polyline points="470.8,509.3 493.0,509.3" stroke-width="1.35"/>
<polyline points="471.7,514.4 490.6,514.4" stroke-width="1.35"/>
<polyline points="484.9,500.2 484.9,530.5" stroke-width="1.35"/>
<polyline points="483.1,511.1 486.6,507.6" stroke-width="1.3"/>
<polyline points="483.1,516.1 486.6,512.6" stroke-width="1.3"/>
<text transform="translate(483.0,527.7) rotate(-90)" x="0" y="0" font-size="8.26" textLength="12.3" lengthAdjust="spacingAndGlyphs" font-weight="normal">40</text>
<text x="453.7" y="539.5" font-size="10.87" textLength="11.3" lengthAdjust="spacingAndGlyphs" font-weight="normal">165</text>
<text x="472.6" y="539.5" font-size="10.29" textLength="10.0" lengthAdjust="spacingAndGlyphs" font-weight="normal">90</text>
<polyline points="443.3,541.9 479.7,541.9" stroke-width="1.35"/>
<polyline points="451.3,531.0 451.3,549.0" stroke-width="1.35"/>
<polyline points="465.5,527.0 465.5,549.0" stroke-width="1.35"/>
<polyline points="449.6,543.6 453.1,540.1" stroke-width="1.3"/>
<polyline points="463.8,543.6 467.2,540.1" stroke-width="1.3"/>
<polyline points="469.1,543.6 472.6,540.1" stroke-width="1.3"/>
</svg>
</body></html>
